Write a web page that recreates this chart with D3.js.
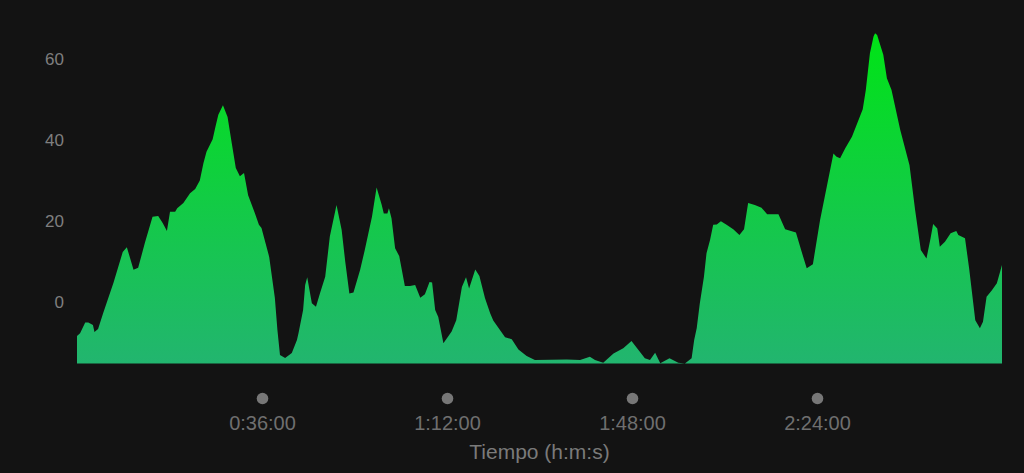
<!DOCTYPE html>
<html>
<head>
<meta charset="utf-8">
<script src="https://cdn.jsdelivr.net/npm/d3@7"></script>
<style>
html,body{margin:0;padding:0;background:#131313;}
svg{display:block;}
</style>
</head>
<body>
<svg id="chart" width="1024" height="473"></svg>
<script>
// elapsed time (minutes)
const minutes = [0,0.6,1.6,2.2,3.1,3.4,4.1,5.1,7.1,8.9,9.7,11.0,11.9,13.2,14.7,15.8,16.7,17.5,18.1,19.1,19.5,20.7,22.0,23.0,23.9,24.6,25.2,26.4,26.9,27.5,28.4,29.3,30.1,30.9,31.7,32.5,33.3,34.6,35.4,35.9,37.4,38.5,39.0,39.5,40.5,41.8,42.8,43.1,44.0,44.4,44.8,45.7,46.5,47.3,48.3,49.2,50.5,51.5,52.2,53.0,53.8,55.1,56.0,57.4,58.3,59.3,59.7,60.4,60.7,61.2,61.9,62.7,63.8,64.8,65.8,66.8,67.7,68.6,69.1,69.7,70.3,71.3,72.9,73.8,74.9,75.7,76.3,77.5,78.3,79.4,80.4,81.0,83.3,84.6,85.9,87.5,89.1,95.3,97.9,99.8,100.8,102.4,104.4,106.3,107.9,110.5,111.5,112.5,113.5,115.3,117.0,118.3,119.6,120.1,120.6,121.2,122.0,122.5,123.2,123.8,124.5,125.3,126.4,127.7,128.9,129.8,130.6,131.9,133.2,134.3,136.5,137.8,139.9,141.0,142.0,143.2,144.6,145.9,147.2,147.8,148.5,149.5,150.8,151.7,152.9,153.5,154.3,155.0,155.3,155.7,156.9,157.6,158.5,160.2,162.0,163.1,164.2,165.3,166.1,166.6,167.4,167.9,168.9,170.0,171.1,171.5,172.8,173.6,174.8,175.7,176.3,177.0,178.0,179.0,180.0];
// series values
const values = [-8.2,-7.5,-4.9,-4.9,-5.5,-7.2,-6.5,-2.5,4.9,12.5,13.7,8.1,8.6,14.7,21.2,21.4,19.6,17.7,22.4,22.4,23.3,24.6,27.0,28.0,30.1,34.4,37.2,40.3,43.1,46.3,48.7,45.8,39.4,33.2,31.2,32.0,26.5,22.1,19.2,18.4,11.3,1.2,-6.7,-12.9,-13.6,-12.4,-9.2,-7.5,-1.8,4.4,6.3,-0.1,-1.0,2.4,6.4,16.3,24.1,17.9,10.1,2.3,2.5,8.1,13.0,21.2,28.4,24.1,22.0,22.0,23.3,20.8,13.4,11.5,4.1,4.1,4.4,1.2,2.1,5.1,5.0,-1.8,-3.5,-10.0,-7.1,-4.3,3.9,6.3,3.5,8.2,6.6,1.1,-2.6,-4.4,-8.5,-9.0,-11.5,-13.1,-14.1,-14.0,-14.1,-13.3,-14.1,-14.8,-12.5,-11.2,-9.4,-13.7,-14.1,-12.3,-14.9,-13.7,-14.8,-15.0,-13.7,-9.2,-6.2,-0.1,6.4,12.2,15.5,19.2,19.3,20.1,19.2,18.1,16.7,18.1,24.6,24.1,23.4,21.8,21.8,18.1,17.3,12.6,8.5,9.5,20.4,28.6,36.8,36.0,35.6,38.1,40.9,43.8,47.7,52.4,61.5,65.6,66.4,66.0,61.1,55.3,52.4,42.6,33.9,22.8,13.0,10.9,15.9,19.4,18.3,13.8,15.0,17.1,17.7,16.7,15.9,8.5,-4.3,-6.3,-4.7,1.5,3.0,4.8,9.3];
// tick labels
const xTickMinutes = [36,72,108,144];
const xTickLabels = ["0:36:00","1:12:00","1:48:00","2:24:00"];
const yTickValues = [0,20,40,60];
const yTickLabels = ["0","20","40","60"];
const xAxisTitle = "Tiempo (h:m:s)";

const data = minutes.map((m,i)=>({m, v: values[i]}));

const svg = d3.select("#chart");
svg.append("rect").attr("width",1024).attr("height",473).attr("fill","#131313");

const x = d3.scaleLinear().domain([0,180]).range([77,1002]);
const y = d3.scaleLinear().domain([-15,70]).range([363.6,18.7]);

const defs = svg.append("defs");
const grad = defs.append("linearGradient").attr("id","g")
  .attr("gradientUnits","userSpaceOnUse")
  .attr("x1",0).attr("x2",0)
  .attr("y1",y(d3.max(values))).attr("y2",y(-15));
grad.append("stop").attr("offset","0%").attr("stop-color","#00e416");
grad.append("stop").attr("offset","50%").attr("stop-color","#12cc44");
grad.append("stop").attr("offset","100%").attr("stop-color","#22b56f");

const area = d3.area()
  .x(d=>x(d.m))
  .y0(y(-15))
  .y1(d=>y(Math.max(-15,d.v)));

svg.append("path").datum(data).attr("d",area).attr("fill","url(#g)");

const font = "'Liberation Sans', Arial, sans-serif";

// y axis labels
const yAxis = d3.axisLeft(y).tickValues(yTickValues).tickFormat((d,i)=>yTickLabels[i]).tickSize(0).tickPadding(0);
const yg = svg.append("g").attr("transform","translate(64,0)").call(yAxis);
yg.select(".domain").remove();
yg.selectAll("text").attr("fill","#7f7f7f").style("font-family",font).style("font-size","17px").attr("dy","0.28em");

// x axis: dots + labels
const xAxis = d3.axisBottom(x).tickValues(xTickMinutes).tickFormat((d,i)=>xTickLabels[i]).tickSize(0).tickPadding(0);
const xg = svg.append("g").attr("transform","translate(0,398.5)").call(xAxis);
xg.select(".domain").remove();
xg.selectAll(".tick").append("circle").attr("r",5.8).attr("fill","#777777");
xg.selectAll("text").attr("fill","#6f6f6f").attr("y",31).attr("dy",0)
  .style("font-family",font).style("font-size","20px");

svg.append("text").attr("x",(x(0)+x(180))/2).attr("y",459)
  .attr("text-anchor","middle").attr("fill","#7a7a7a")
  .style("font-family",font).style("font-size","21px")
  .text(xAxisTitle);
</script>
</body>
</html>
